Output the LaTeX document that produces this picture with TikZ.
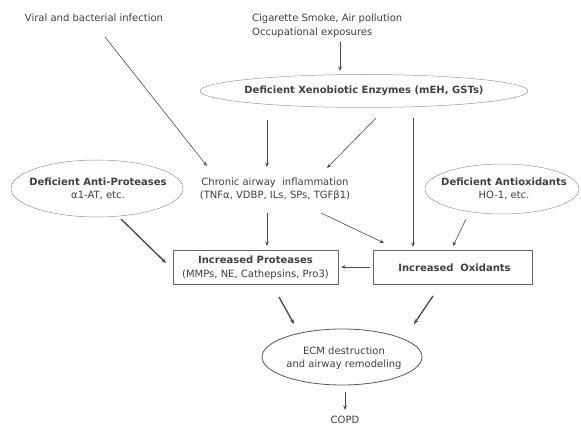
\documentclass[tikz,border=0pt]{standalone}
\usepackage{fontspec}
\setmainfont{DejaVu Sans}
\usetikzlibrary{arrows.meta,shapes.geometric}
\begin{document}
\begin{tikzpicture}[x=1pt,y=-1pt,
  txt/.style={font=\fontsize{10}{13.5}\selectfont, text=black!75, align=center, inner sep=0pt},
  btxt/.style={txt, font=\bfseries\fontsize{10}{13.5}\selectfont},
  faint/.style={draw=black!40, line width=0.5pt},
  solidline/.style={draw=black!60, line width=0.8pt},
  arr/.style={draw=black!70, line width=0.6pt, -{Stealth[length=4.5pt,width=3.5pt]}},
  thick arr/.style={draw=black!72, line width=1.3pt, -{Stealth[length=5pt,width=4pt]}}
]
\useasboundingbox[fill=white] (0,0) rectangle (581,427);

% texts
\node[txt] (viral) at (94,18) {Viral and bacterial infection};
\node[txt, align=left, anchor=west] (cig) at (252,25.5) {Cigarette Smoke, Air pollution\\Occupational exposures};

% xenobiotic ellipse
\node[ellipse, faint, minimum width=328pt, minimum height=33pt, inner sep=0pt] (xeno) at (364,91) {};
\node[btxt] (xenot) at (364,91) {Deficient Xenobiotic Enzymes (mEH, GSTs)};

\node[txt] (chronic) at (275,189) {Chronic airway\ \ inflammation\\(TNFα, VDBP, ILs, SPs, TGFβ1)};

\node[ellipse, faint, minimum width=172pt, minimum height=57pt, inner sep=0pt] (antip) at (97,188.5) {};
\node[txt] (antipt) at (98,189) {\textbf{Deficient Anti-Proteases}\\α1-AT, etc.};

\node[ellipse, faint, minimum width=154pt, minimum height=50pt, inner sep=0pt] (antio) at (502,189) {};
\node[txt] (antiot) at (504,189) {\textbf{Deficient Antioxidants}\\HO-1, etc.};

\node[rectangle, solidline, minimum width=165pt, minimum height=34pt, inner sep=0pt] (prot) at (255.5,267) {};
\node[txt] (prott) at (255.5,267.5) {\textbf{Increased Proteases}\\(MMPs, NE, Cathepsins, Pro3)};

\node[rectangle, solidline, minimum width=159pt, minimum height=34pt, inner sep=0pt] (oxid) at (452.5,267) {};
\node[btxt] (oxidt) at (454.5,268) {Increased\ \ Oxidants};

\node[ellipse, draw=black!65, line width=0.8pt, minimum width=160pt, minimum height=56pt, inner sep=0pt] (ecm) at (342,357) {};
\node[txt] (ecmt) at (344,358) {ECM destruction\\and airway remodeling};

\node[txt] (copd) at (345,420) {COPD};

% connector end points
\coordinate (c1s) at (340,42);  \coordinate (c1e) at (340,71);
\coordinate (v1s) at (105,37);  \coordinate (v1e) at (207,166);
\coordinate (x1s) at (267,120); \coordinate (x1e) at (267,167);
\coordinate (x2s) at (376,118); \coordinate (x2e) at (327,168);
\coordinate (x3s) at (413,118); \coordinate (x3e) at (413,247);
\coordinate (h1s) at (267,213); \coordinate (h1e) at (267,246);
\coordinate (h2s) at (321,213); \coordinate (h2e) at (384,243);
\coordinate (o1s) at (466,219); \coordinate (o1e) at (453,246);
\coordinate (p1s) at (121,219); \coordinate (p1e) at (166,263);
\coordinate (d1s) at (370,267); \coordinate (d1e) at (341,267);
\coordinate (e1s) at (279,297); \coordinate (e1e) at (294,324);
\coordinate (e2s) at (433,296); \coordinate (e2e) at (414,324);
\coordinate (f1s) at (345,392); \coordinate (f1e) at (345,410);

\draw[arr] (c1s) -- (c1e);
\draw[arr] (v1s) -- (v1e);
\draw[arr] (x1s) -- (x1e);
\draw[arr] (x2s) -- (x2e);
\draw[arr] (x3s) -- (x3e);
\draw[arr] (h1s) -- (h1e);
\draw[arr] (h2s) -- (h2e);
\draw[arr] (o1s) -- (o1e);
\draw[thick arr] (p1s) -- (p1e);
\draw[arr] (d1s) -- (d1e);
\draw[thick arr] (e1s) -- (e1e);
\draw[thick arr] (e2s) -- (e2e);
\draw[arr] (f1s) -- (f1e);
\end{tikzpicture}
\end{document}
